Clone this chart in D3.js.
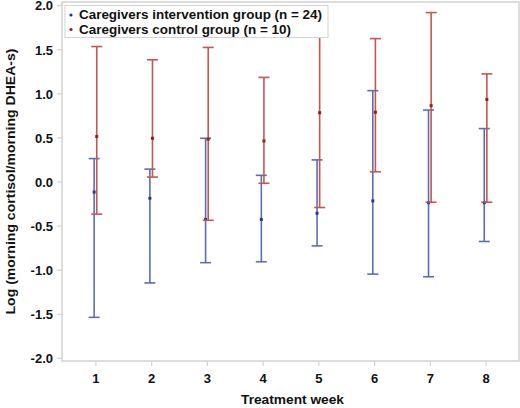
<!DOCTYPE html>
<html><head><meta charset="utf-8">
<script src="https://cdn.jsdelivr.net/npm/d3@7"></script>
<style>body{margin:0;background:#fff}svg{display:block;font-family:"Liberation Sans",Arial,sans-serif}</style>
</head><body><svg id="c" width="520" height="408"></svg>
<script>
const weeks = [1,2,3,4,5,6,7,8];
const interventionMean  = [-0.12,-0.19,-0.43,-0.43,-0.36,-0.22,-0.24,-0.24];
const interventionLower = [-1.54,-1.15,-0.92,-0.91,-0.73,-1.05,-1.08,-0.68];
const interventionUpper = [0.26,0.14,0.49,0.07,0.245,1.03,0.81,0.60];
const controlMean  = [0.51,0.49,0.48,0.46,0.78,0.785,0.86,0.93];
const controlLower = [-0.37,0.05,-0.44,-0.02,-0.295,0.11,-0.235,-0.235];
const controlUpper = [1.53,1.38,1.52,1.18,1.80,1.62,1.915,1.22];
const yTicks = [-2.0,-1.5,-1.0,-0.5,0.0,0.5,1.0,1.5,2.0];
const seriesNames = ["Caregivers intervention group (n = 24)","Caregivers control group (n = 10)"];

const svg = d3.select("#c");
const L=62,R=519,T=2,B=361;
const x = d3.scaleLinear().domain([0.4,8.6]).range([L,R]);
const y = d3.scaleLinear().domain([-2.035,2.035]).range([B,T]);
const grid="#d2d2d2";

svg.append("rect").attr("x",L).attr("y",T).attr("width",R-L).attr("height",B-T).attr("fill","none").attr("stroke",grid).attr("stroke-width",1.5);

const xa = svg.append("g").attr("transform",`translate(0,${B})`).call(d3.axisBottom(x).tickValues(weeks).tickFormat(d3.format("d")).tickSize(5).tickPadding(8));
const ya = svg.append("g").attr("transform",`translate(${L},0)`).call(d3.axisLeft(y).tickValues(yTicks).tickFormat(d3.format(".1f")).tickSize(5).tickPadding(4));
[xa,ya].forEach(a=>{a.select(".domain").remove();a.selectAll("line").attr("stroke",grid).attr("stroke-width",1.2);
 a.selectAll("text").attr("font-size","13px").attr("font-weight","bold").attr("fill","#111").attr("font-family","Liberation Sans, Arial, sans-serif");});
ya.selectAll("text").text(d=>d.toFixed(1)).attr("dy","0.37em");

svg.append("text").attr("x",(L+R)/2+2).attr("y",404).attr("text-anchor","middle").attr("font-size","13px").attr("font-weight","bold").attr("fill","#111")
 .attr("textLength",103).attr("lengthAdjust","spacingAndGlyphs").text("Treatment week");
svg.append("text").attr("transform",`translate(15,${(T+B)/2}) rotate(-90)`).attr("text-anchor","middle").attr("font-size","13px").attr("font-weight","bold").attr("fill","#111")
 .attr("textLength",266).attr("lengthAdjust","spacingAndGlyphs").text("Log (morning cortisol/morning DHEA-s)");

const series = [
 {mean:interventionMean,lo:interventionLower,hi:interventionUpper,off:-1.3,line:"#5d6db5",dot:"#26368c"},
 {mean:controlMean,lo:controlLower,hi:controlUpper,off:1.3,line:"#c4574f",dot:"#9e1a14"}
];
const cw=5.5;
series.forEach(s=>{
 const g=svg.append("g");
 weeks.forEach((w,i)=>{
  const cx=x(w)+s.off;
  g.append("line").attr("x1",cx).attr("x2",cx).attr("y1",y(s.lo[i])).attr("y2",y(s.hi[i])).attr("stroke",s.line).attr("stroke-width",1.6);
  [s.lo[i],s.hi[i]].forEach(v=>g.append("line").attr("x1",cx-cw).attr("x2",cx+cw).attr("y1",y(v)).attr("y2",y(v)).attr("stroke",s.line).attr("stroke-width",1.6));
  g.append("rect").attr("x",cx-1.5).attr("y",y(s.mean[i])-1.5).attr("width",3).attr("height",3).attr("fill",s.dot);
 });
});

const lg=svg.append("g");
lg.append("rect").attr("x",65).attr("y",5.5).attr("width",263).attr("height",32).attr("fill","#fff").attr("stroke",grid).attr("stroke-width",1);
const legLens=[243,212];
seriesNames.forEach((n,i)=>{
 const yy=19+i*14.5;
 lg.append("circle").attr("cx",71).attr("cy",yy-4).attr("r",1.6).attr("fill",series[i].dot);
 lg.append("text").attr("x",79).attr("y",yy).attr("font-size","13px").attr("font-weight","bold").attr("fill","#111")
  .attr("textLength",legLens[i]).attr("lengthAdjust","spacingAndGlyphs").text(n);
});
</script></body></html>
